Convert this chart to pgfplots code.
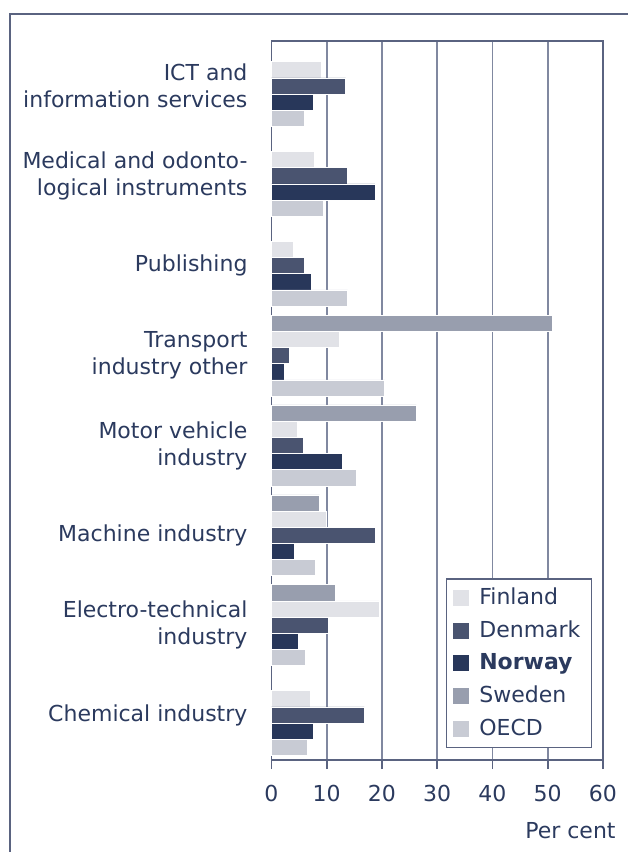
\documentclass[border=0pt]{standalone}
\usepackage{fontspec}
\setmainfont{DejaVu Sans}
\usepackage{pgfplots}
\pgfplotsset{compat=1.18}
\definecolor{txt}{HTML}{2B3A5E}
\definecolor{axc}{HTML}{5A6380}
\definecolor{gridc}{HTML}{8088A0}
\definecolor{cFin}{HTML}{E1E2E7}
\definecolor{cDen}{HTML}{4A5470}
\definecolor{cNor}{HTML}{28375A}
\definecolor{cSwe}{HTML}{989EAE}
\definecolor{cOECD}{HTML}{C8CBD4}
\begin{document}
\begin{tikzpicture}
\useasboundingbox (0,0) rectangle (313.5pt,426pt);
\draw[axc, line width=0.8pt] (5pt,-2pt) -- (5pt,419pt) -- (316pt,419pt);
\begin{axis}[
  at={(135.75pt,46pt)}, anchor=south west,
  scale only axis, width=165.75pt, height=359.5pt,
  xbar, bar width=0.18,
  every axis plot post/.append style={legend image code/.code={\fill[##1, draw=none] (0pt,-4pt) rectangle (8pt,4pt); \path[draw=none, fill=none] (0pt,0pt) -- (11pt,0pt);}},
  xmin=0, xmax=60, ymin=-0.5, ymax=7.5,
  xtick={0,10,...,60},
  ytick={0,...,7},
  yticklabels={Chemical industry,
    Electro-technical\\industry,
    Machine industry,
    Motor vehicle\\industry,
    Transport\\industry other,
    Publishing,
    Medical and odonto-\\logical instruments,
    ICT and\\information services},
  yticklabel style={align=right, text=txt, font=\fontsize{11}{13.5}\selectfont, xshift=-4pt},
  xticklabel style={text=txt, font=\fontsize{11}{12}\selectfont, yshift=-4.5pt},
  /pgf/number format/assume math mode=true,
  xmajorgrids, major grid style={gridc, line width=0.8pt},
  axis line style={axc, line width=0.8pt},
  x tick style={axc, line width=0.8pt},
  xtick align=outside, major tick length=4.5pt,
  y tick style={draw=none},
  xtick pos=bottom,
  legend style={at={(0.967,0.0167)}, anchor=south east, draw=axc, fill=white,
    font=\fontsize{11}{12}\selectfont, text=txt, row sep=2.6pt,
    inner xsep=3.5pt, inner ysep=2.5pt, line width=0.6pt},
  legend cell align=left,
  clip=false,
]
\addplot[fill=cFin, draw=white, line width=0.3pt, bar shift=0.18] coordinates {
 (7.0,0) (19.5,1) (9.9,2) (4.7,3) (12.3,4) (3.9,5) (7.8,6) (9.1,7)};
\addplot[fill=cDen, draw=white, line width=0.3pt, bar shift=0] coordinates {
 (16.8,0) (10.3,1) (18.8,2) (5.7,3) (3.2,4) (5.9,5) (13.8,6) (13.4,7)};
\addplot[fill=cNor, draw=white, line width=0.3pt, bar shift=-0.18] coordinates {
 (7.6,0) (4.9,1) (4.1,2) (12.9,3) (2.3,4) (7.2,5) (18.7,6) (7.6,7)};
\addplot[fill=cSwe, draw=white, line width=0.3pt, bar shift=0.36] coordinates {
 (11.6,1) (8.7,2) (26.2,3) (50.9,4)};
\addplot[fill=cOECD, draw=white, line width=0.3pt, bar shift=-0.36] coordinates {
 (6.5,0) (6.2,1) (7.9,2) (15.4,3) (20.5,4) (13.8,5) (9.3,6) (5.9,7)};
\legend{Finland, Denmark, \textbf{Norway}, Sweden, OECD}
\end{axis}
\node[anchor=east, text=txt, font=\fontsize{11}{12}\selectfont, inner sep=0pt] at (308pt,10.5pt) {Per cent};
\end{tikzpicture}
\end{document}
